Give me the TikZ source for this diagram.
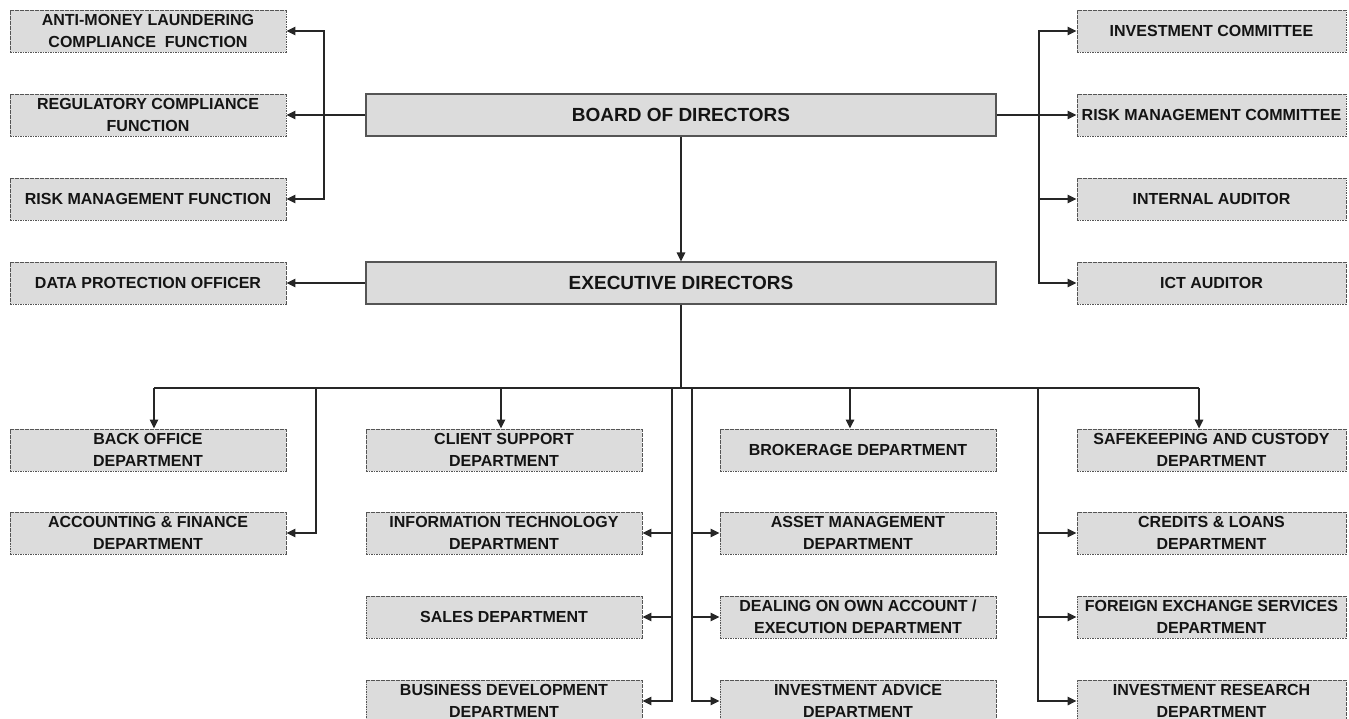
\documentclass[tikz,border=0pt]{standalone}
\usepackage{fontspec}
\setmainfont{Liberation Sans}
\usetikzlibrary{arrows.meta}
\definecolor{boxfill}{HTML}{DCDCDC}
\definecolor{boxline}{HTML}{555555}
\definecolor{txt}{HTML}{141414}
\tikzset{
  x=1pt,y=-1pt,
  unit/.style={draw=boxline, fill=boxfill, line width=0.9pt,
    dash pattern=on 1.6pt off 0.9pt, minimum width=276pt, minimum height=42pt,
    inner sep=0pt, align=center, text=txt,
    font=\fontsize{16}{22}\selectfont\bfseries},
  unitr/.style={unit, minimum width=269pt},
  main/.style={draw=boxline, fill=boxfill, line width=1.2pt, minimum width=630pt,
    minimum height=42pt, inner sep=0pt, align=center, text=txt,
    font=\fontsize{19}{22}\selectfont\bfseries},
  conn/.style={draw=black!85, line width=1.5pt},
  arr/.style={conn, -{Triangle[length=9pt,width=8.5pt]}}
}
\begin{document}
\begin{tikzpicture}
\useasboundingbox (0,0) rectangle (1349,719);
\clip (0,0) rectangle (1349,719);
% top left
\node[unit] (aml) at (148,31) {ANTI-MONEY LAUNDERING\\COMPLIANCE\ \ FUNCTION};
\node[unit] (reg) at (148,115) {REGULATORY COMPLIANCE\\FUNCTION};
\node[unit] (rmf) at (148,199) {RISK MANAGEMENT FUNCTION};
\node[unit] (dpo) at (148,283) {DATA PROTECTION OFFICER};
% main
\node[main] (board) at (681,115) {BOARD OF DIRECTORS};
\node[main] (exec) at (681,283) {EXECUTIVE DIRECTORS};
% top right
\node[unitr] (ic) at (1211.5,31) {INVESTMENT COMMITTEE};
\node[unitr] (rmc) at (1211.5,115) {RISK MANAGEMENT COMMITTEE};
\node[unitr] (ia) at (1211.5,199) {INTERNAL AUDITOR};
\node[unitr] (ict) at (1211.5,283) {ICT AUDITOR};
% column 1
\node[unit] (bo) at (148,450) {BACK OFFICE\\DEPARTMENT};
\node[unit] (acc) at (148,533) {ACCOUNTING \& FINANCE\\DEPARTMENT};
% column 2
\node[unit] (cs) at (504,450) {CLIENT SUPPORT\\DEPARTMENT};
\node[unit] (it) at (504,533) {INFORMATION TECHNOLOGY\\DEPARTMENT};
\node[unit] (sales) at (504,617) {SALES DEPARTMENT};
\node[unit] (bd) at (504,701) {BUSINESS DEVELOPMENT\\DEPARTMENT};
% column 3
\node[unit] (brk) at (858,450) {BROKERAGE DEPARTMENT};
\node[unit] (am) at (858,533) {ASSET MANAGEMENT\\DEPARTMENT};
\node[unit] (deal) at (858,617) {DEALING ON OWN ACCOUNT /\\EXECUTION DEPARTMENT};
\node[unit] (iadv) at (858,701) {INVESTMENT ADVICE\\DEPARTMENT};
% column 4
\node[unitr] (safe) at (1211.5,450) {SAFEKEEPING AND CUSTODY\\DEPARTMENT};
\node[unitr] (cred) at (1211.5,533) {CREDITS \& LOANS\\DEPARTMENT};
\node[unitr] (fx) at (1211.5,617) {FOREIGN EXCHANGE SERVICES\\DEPARTMENT};
\node[unitr] (ir) at (1211.5,701) {INVESTMENT RESEARCH\\DEPARTMENT};

% coordinates
\coordinate (lb) at (324,115);
\coordinate (rb) at (1039,115);
\coordinate (bus) at (681,388);
\coordinate (busL) at (154,388);
\coordinate (busR) at (1199,388);
\coordinate (dcs) at (501,388);
\coordinate (dbrk) at (850,388);
\coordinate (v1) at (316,388);
\coordinate (v2) at (672,388);
\coordinate (v3) at (692,388);
\coordinate (v4) at (1038,388);

% board connectors
\draw[arr] (board.west) -- (reg.east);
\draw[arr] (lb) |- (aml.east);
\draw[arr] (lb) |- (rmf.east);
\draw[arr] (board.east) -- (rmc.west);
\draw[arr] (rb) |- (ic.west);
\draw[arr] (rb) |- (ia.west);
\draw[arr] (rb) |- (ict.west);
\draw[arr] (board.south) -- (exec.north);
\draw[arr] (exec.west) -- (dpo.east);
% bus
\draw[conn] (exec.south) -- (bus);
\draw[conn] (busL) -- (busR);
\draw[arr] (busL) -- (busL |- bo.north);
\draw[arr] (dcs) -- (dcs |- cs.north);
\draw[arr] (dbrk) -- (dbrk |- brk.north);
\draw[arr] (busR) -- (busR |- safe.north);
% col 1
\draw[arr] (v1) |- (acc.east);
% col 2
\draw[arr] (v2) |- (bd.east);
\draw[arr] (v2 |- it.east) -- (it.east);
\draw[arr] (v2 |- sales.east) -- (sales.east);
% col 3
\draw[arr] (v3) |- (iadv.west);
\draw[arr] (v3 |- am.west) -- (am.west);
\draw[arr] (v3 |- deal.west) -- (deal.west);
% col 4
\draw[arr] (v4) |- (ir.west);
\draw[arr] (v4 |- cred.west) -- (cred.west);
\draw[arr] (v4 |- fx.west) -- (fx.west);
\end{tikzpicture}
\end{document}
